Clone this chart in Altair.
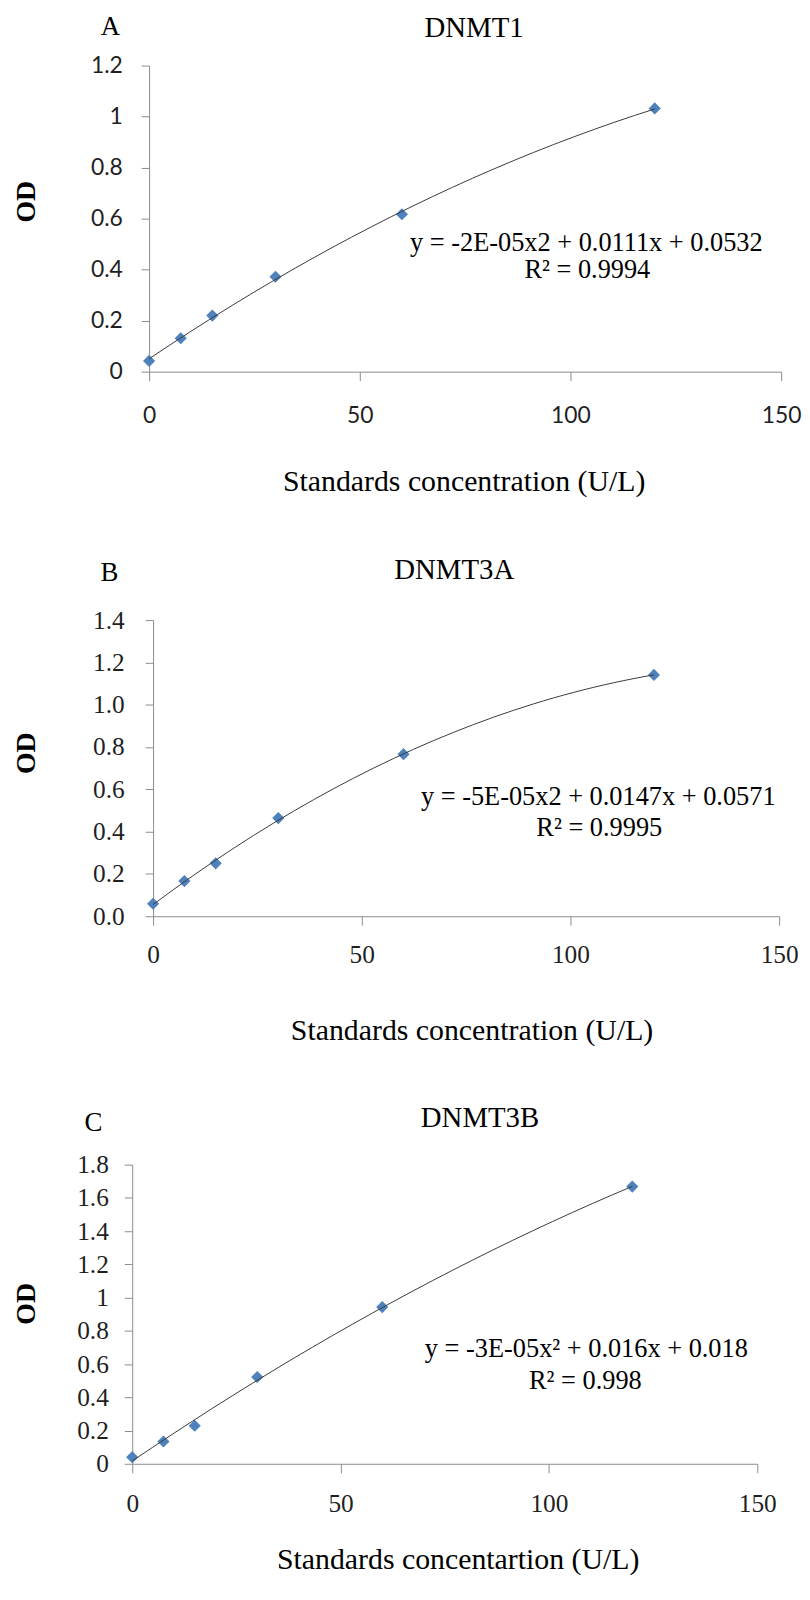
import altair as alt
import pandas as pd

# ---- data ----
conc = [0, 7.5, 15, 30, 60, 120]
od_dnmt1 = [0.042, 0.131, 0.220, 0.372, 0.617, 1.032]
od_dnmt3a = [0.059, 0.166, 0.250, 0.464, 0.766, 1.141]
od_dnmt3b = [0.040, 0.134, 0.229, 0.522, 0.943, 1.668]

x_ticks = [0, 50, 100, 150]
y_ticks_a = [0, 0.2, 0.4, 0.6, 0.8, 1.0, 1.2]
y_ticks_b = [0, 0.2, 0.4, 0.6, 0.8, 1.0, 1.2, 1.4]
y_ticks_c = [0, 0.2, 0.4, 0.6, 0.8, 1.0, 1.2, 1.4, 1.6, 1.8]

titles = ["DNMT1", "DNMT3A", "DNMT3B"]
letters = ["A", "B", "C"]
xtitles = ["Standards concentration (U/L)", "Standards concentration (U/L)",
           "Standards concentartion (U/L)"]
equations = ["y = -2E-05x2 + 0.0111x + 0.0532",
             "y = -5E-05x2 + 0.0147x + 0.0571",
             "y = -3E-05x\u00b2 + 0.016x + 0.018"]
r2_texts = ["R\u00b2 = 0.9994", "R\u00b2 = 0.9995", "R\u00b2 = 0.998"]

SERIF = "Liberation Serif"
AXIS_GRAY = "#8c8c8c"


def text_layer(txt, x, y, size, bold=False, angle=0):
    return alt.Chart(pd.DataFrame({"t": [txt]})).mark_text(
        font=SERIF, fontSize=size, fontWeight="bold" if bold else "normal",
        align="center", baseline="middle", color="black", angle=angle
    ).encode(x=alt.value(x), y=alt.value(y), text="t:N")


def panel(i, od, width, height, xrange_start, ymax, yticks, yfmt,
          lab_font, lab_size, ylab_pad, xlab_pad, pos):
    df = pd.DataFrame({"conc": conc, "od": od})
    x = alt.X("conc:Q",
              scale=alt.Scale(domain=[0, 150], range=[xrange_start, width], nice=False),
              axis=alt.Axis(values=x_ticks, format="d", title=None, grid=False,
                            domainColor=AXIS_GRAY, tickColor=AXIS_GRAY, tickSize=9,
                            labelFont=lab_font, labelFontSize=lab_size, labelColor="#1f1f1f",
                            labelPadding=xlab_pad, labelFlush=False, labelOverlap=False))
    y = alt.Y("od:Q",
              scale=alt.Scale(domain=[0, ymax], nice=False, zero=True),
              axis=alt.Axis(values=yticks, format=yfmt, title=None, grid=False,
                            offset=-xrange_start,
                            domainColor=AXIS_GRAY, tickColor=AXIS_GRAY, tickSize=8,
                            labelFont=lab_font, labelFontSize=lab_size, labelColor="#1f1f1f",
                            labelPadding=ylab_pad, labelFlush=False, labelOverlap=False))
    base = alt.Chart(df)
    points = base.mark_point(shape="diamond", filled=True, size=150,
                             color="#4F81BD", opacity=1).encode(x=x, y=y)
    trend = base.transform_regression(
        "conc", "od", method="poly", order=2, extent=[0, 120]
    ).mark_line(color="#3a3a3a", strokeWidth=1).encode(x=x, y=y)

    layers = [points, trend,
              text_layer(letters[i], pos["letter"][0], pos["letter"][1], 27),
              text_layer(titles[i], pos["title"][0], pos["title"][1], 29),
              text_layer("OD", pos["od"][0], pos["od"][1], 28, bold=True, angle=270),
              text_layer(xtitles[i], pos["xt"][0], pos["xt"][1], 30),
              text_layer(equations[i], pos["eq"][0], pos["eq"][1], 26.5),
              text_layer(r2_texts[i], pos["r2"][0], pos["r2"][1], 26.5)]
    if i == 0:
        anchor = alt.Chart(pd.DataFrame({"a": [0]})).mark_rule(
            color="white", opacity=0, strokeWidth=1
        ).encode(x=alt.value(-125), x2=alt.value(-124), y=alt.value(-53), y2=alt.value(-53))
        layers.append(anchor)
    return alt.layer(*layers).properties(width=width, height=height)


chart_a = panel(0, od_dnmt1, 653, 308, 17, 1.2, y_ticks_a, "~g", "Lato", 23, 19, 24,
                {"letter": (-22, -39), "title": (344, -38), "od": (-106, 137),
                 "xt": (334, 419), "eq": (457, 179), "r2": (458, 206)})
chart_b = panel(1, od_dnmt3a, 651, 298, 21, 1.4, y_ticks_b, ".1f", SERIF, 25.5, 21, 18,
                {"letter": (-23, -47), "title": (324, -50), "od": (-106, 134),
                 "xt": (342, 414), "eq": (469, 178), "r2": (470, 209)})
chart_c = panel(2, od_dnmt3b, 629, 301, 0, 1.8, y_ticks_c, "~g", SERIF, 25.5, 16, 19,
                {"letter": (-39, -42), "title": (350, -47), "od": (-106, 140),
                 "xt": (328, 398), "eq": (457, 186), "r2": (456, 218)})

chart = alt.vconcat(chart_a, chart_b, chart_c, spacing=250, bounds="flush").properties(
    padding=0
).configure_view(stroke=None)

chart.save("out.html", embed_options={"renderer": "svg", "actions": False})
